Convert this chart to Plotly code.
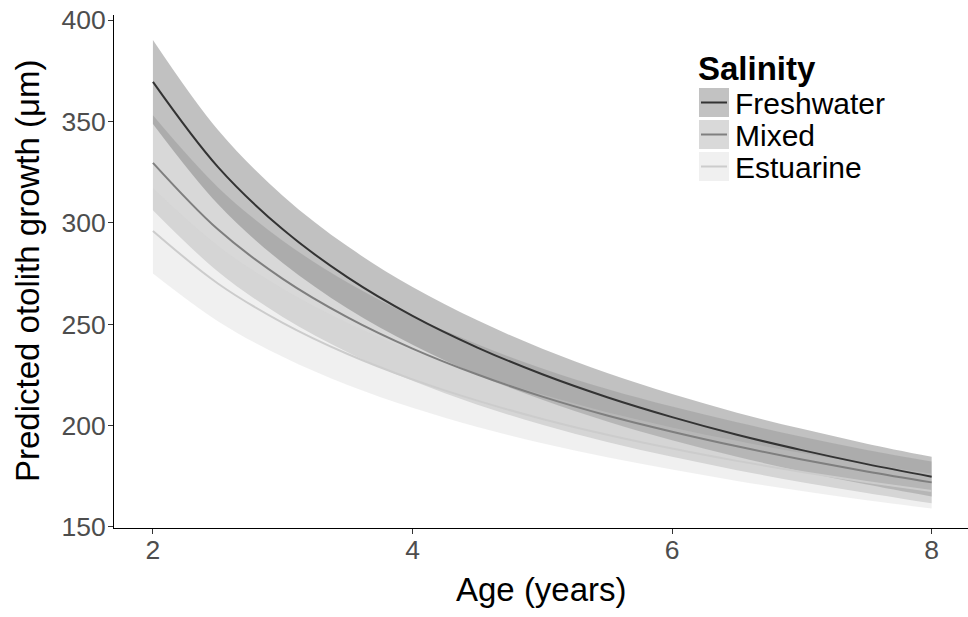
import plotly.graph_objects as go

ages = [2.0, 2.5, 3.0, 3.5, 4.0, 4.5, 5.0, 5.5, 6.0, 6.5, 7.0, 7.5, 8.0]

fresh_fit = [369.5, 327.6, 296.8, 273.1, 254.1, 238.5, 225.3, 214.0, 204.2, 195.5, 187.9, 181.0, 174.8]
fresh_hi = [390.2, 345.9, 313.4, 288.4, 268.3, 251.9, 237.9, 226.0, 215.6, 206.4, 198.4, 191.1, 184.6]
fresh_lo = [348.8, 309.3, 280.2, 257.8, 239.9, 225.1, 212.7, 202.0, 192.8, 184.6, 177.4, 170.9, 165.0]

mixed_fit = [329.6, 296.8, 272.4, 253.4, 238.0, 225.2, 214.3, 205.0, 197.0, 189.8, 183.3, 177.4, 172.0]
mixed_hi = [353.0, 317.6, 291.2, 270.6, 253.9, 240.1, 228.2, 218.1, 209.4, 201.6, 194.5, 188.0, 182.3]
mixed_lo = [306.2, 276.0, 253.6, 236.2, 222.1, 210.3, 200.4, 191.9, 184.6, 178.0, 172.1, 166.8, 161.7]

estu_fit = [296.0, 270.1, 250.7, 235.3, 222.8, 212.3, 203.3, 195.5, 188.7, 182.6, 177.1, 172.2, 167.7]
estu_hi = [317.0, 288.7, 267.5, 250.6, 236.8, 225.3, 215.3, 206.6, 199.1, 192.5, 186.5, 181.2, 176.3]
estu_lo = [275.0, 251.5, 233.9, 220.0, 208.8, 199.3, 191.3, 184.4, 178.3, 172.7, 167.7, 163.2, 159.1]

groups = ["Freshwater", "Mixed", "Estuarine"]
y_ticks = [150, 200, 250, 300, 350, 400]
x_ticks = [2, 4, 6, 8]

line_cols = ["#333333", "#7f7f7f", "#cccccc"]
fill_cols = ["rgba(51,51,51,0.3)", "rgba(127,127,127,0.3)", "rgba(204,204,204,0.3)"]
key_cols = ["#c2c2c2", "#d9d9d9", "#f0f0f0"]

series = [
    (fresh_fit, fresh_hi, fresh_lo),
    (mixed_fit, mixed_hi, mixed_lo),
    (estu_fit, estu_hi, estu_lo),
]

FONT = "Liberation Sans, Arial, sans-serif"

fig = go.Figure()

for i, (fit, hi, lo) in enumerate(series):
    fig.add_trace(go.Scatter(x=ages, y=lo, mode="lines", line=dict(width=0, shape="spline"),
                             showlegend=False, hoverinfo="skip"))
    fig.add_trace(go.Scatter(x=ages, y=hi, mode="lines", line=dict(width=0, shape="spline"),
                             fill="tonexty", fillcolor=fill_cols[i], showlegend=False,
                             hoverinfo="skip"))

for i, (fit, hi, lo) in enumerate(series):
    fig.add_trace(go.Scatter(x=ages, y=fit, mode="lines", name=groups[i],
                             line=dict(color=line_cols[i], width=2, shape="spline"),
                             showlegend=False))

# body margin is removed by post_script, so the figure fills the window
W, H = 968, 617
L, R, T = 114, 0, 15
B = H - 528
pw = W - L - R
ph = H - T - B


def ppx(x):
    return (x - L) / pw


def ppy(y):
    return 1 - (y - T) / ph


shapes = []
annotations = []

# legend drawn by hand (coordinates in window pixels)
annotations.append(dict(x=ppx(696), y=ppy(68), xref="paper", yref="paper", text="<b>Salinity</b>",
                        showarrow=False, xanchor="left", yanchor="middle",
                        font=dict(family=FONT, size=33, color="#000000")))
key_tops = [88, 120, 152]
for i, g in enumerate(groups):
    t = key_tops[i]
    shapes.append(dict(type="rect", xref="paper", yref="paper", x0=ppx(699), x1=ppx(729),
                       y0=ppy(t), y1=ppy(t + 29), fillcolor=key_cols[i], line=dict(width=0)))
    shapes.append(dict(type="line", xref="paper", yref="paper", x0=ppx(701), x1=ppx(727),
                       y0=ppy(t + 14.5), y1=ppy(t + 14.5), line=dict(color=line_cols[i], width=2)))
    annotations.append(dict(x=ppx(733), y=ppy(t + 15), xref="paper", yref="paper", text=g,
                            showarrow=False, xanchor="left", yanchor="middle",
                            font=dict(family=FONT, size=30, color="#000000")))

# axis titles
annotations.append(dict(x=ppx(541), y=ppy(589), xref="paper", yref="paper", text="Age (years)",
                        showarrow=False, xanchor="center", yanchor="middle",
                        font=dict(family=FONT, size=33, color="#000000")))
annotations.append(dict(x=ppx(27), y=ppy(271), xref="paper", yref="paper",
                        text="Predicted otolith growth (μm)", textangle=-90,
                        showarrow=False, xanchor="center", yanchor="middle",
                        font=dict(family=FONT, size=33, color="#000000")))

fig.update_layout(
    width=W, height=H,
    margin=dict(l=L, r=R, t=T, b=B),
    plot_bgcolor="white", paper_bgcolor="white",
    showlegend=False,
    shapes=shapes, annotations=annotations,
    font=dict(family=FONT),
    xaxis=dict(range=[1.7, 8.28], tickvals=x_ticks, ticktext=[str(v) for v in x_ticks],
               showgrid=False, zeroline=False, showline=True, linecolor="#000000", linewidth=1,
               ticks="outside", ticklen=5, tickcolor="#333333", automargin=False,
               ticklabelstandoff=-7, ticklabeloverflow="allow",
               tickfont=dict(family=FONT, size=26.5, color="#4d4d4d")),
    yaxis=dict(range=[149.5, 402.5], tickvals=y_ticks, ticktext=[str(v) for v in y_ticks],
               showgrid=False, zeroline=False, showline=True, linecolor="#000000", linewidth=1,
               ticks="outside", ticklen=5, tickcolor="#333333", automargin=False,
               ticklabelstandoff=-3, ticklabeloverflow="allow",
               tickfont=dict(family=FONT, size=26.5, color="#4d4d4d")),
)

fig.write_html("out.html", config={"displayModeBar": False},
               post_script="document.body.style.margin='0';document.body.style.overflow='hidden';")
